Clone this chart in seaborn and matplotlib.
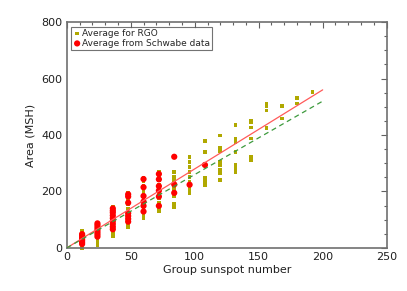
import matplotlib
matplotlib.use("Agg")
import matplotlib.pyplot as plt
from matplotlib.ticker import MultipleLocator
import pandas as pd
import seaborn as sns

# RGO averages, one list per group-number column
rgo_cols = [12, 24, 36, 48, 60, 72, 84, 96, 108, 120, 132, 144, 156, 168, 180, 192]
rgo_vals = [
    [0, 8, 15, 22, 30, 38, 45, 52, 61],
    [10, 20, 32, 45, 55, 65, 75, 82, 90],
    [40, 52, 65, 78, 90, 100, 112, 125, 138, 146],
    [75, 88, 100, 112, 125, 140, 155, 170, 185, 195],
    [105, 118, 130, 145, 160, 175, 190, 205, 220, 235, 250],
    [130, 145, 160, 178, 195, 210, 225, 240, 255, 268],
    [144, 156, 182, 203, 211, 223, 241, 252, 268],
    [195, 205, 216, 234, 251, 269, 287, 304, 322],
    [223, 236, 250, 341, 380],
    [241, 264, 276, 294, 306, 344, 356, 398],
    [270, 282, 294, 341, 376, 388, 435],
    [311, 323, 388, 427, 447, 452],
    [425, 487, 504, 512],
    [459, 503],
    [512, 530],
    [553],
]

# Schwabe averages
sch_cols = [12, 24, 36, 48, 60, 72, 84, 96, 108]
sch_vals = [
    [14, 20, 26, 32, 38, 44, 49],
    [40, 48, 56, 64, 72, 80, 87],
    [66, 75, 85, 95, 105, 115, 125, 132, 140],
    [93, 103, 113, 123, 160, 182, 190],
    [129, 149, 164, 184, 215, 244],
    [149, 182, 203, 219, 243, 262],
    [195, 225, 323],
    [224],
    [294],
]

# linear fits
fit_x = [0, 200]
sch_fit = [0, 560]
rgo_fit = [0, 520]

rgo = pd.DataFrame([(c, v) for c, vs in zip(rgo_cols, rgo_vals) for v in vs],
                   columns=["G", "area"])
sch = pd.DataFrame([(c, v) for c, vs in zip(sch_cols, sch_vals) for v in vs],
                   columns=["G", "area"])

sns.set_style("white")
plt.rcParams["font.family"] = ["DejaVu Sans"]

fig = plt.figure(figsize=(4.07, 2.91), dpi=100)
ax = fig.add_axes([0.164, 0.148, 0.786, 0.776])

sns.scatterplot(data=rgo, x="G", y="area", ax=ax, marker="s", s=7,
                color="#b0a800", edgecolor="none", label="Average for RGO",
                clip_on=False, zorder=2)
sns.scatterplot(data=sch, x="G", y="area", ax=ax, marker="o", s=20,
                color="#ff0000", edgecolor="none",
                label="Average from Schwabe data", clip_on=False, zorder=3)
sns.lineplot(x=fit_x, y=sch_fit, ax=ax, color="#ff5a5a", lw=0.9, zorder=4)
sns.lineplot(x=fit_x, y=rgo_fit, ax=ax, color="#3d9a3d", lw=0.9, zorder=4)
ax.lines[-1].set_linestyle((0, (4, 3)))

ax.set_xlim(0, 250)
ax.set_ylim(0, 800)
ax.xaxis.set_major_locator(MultipleLocator(50))
ax.xaxis.set_minor_locator(MultipleLocator(10))
ax.yaxis.set_major_locator(MultipleLocator(200))
ax.yaxis.set_minor_locator(MultipleLocator(50))
ax.tick_params(which="both", direction="in", top=True, right=True,
               color="#606060", labelsize=8, labelcolor="#202020", pad=3)
ax.tick_params(which="major", length=4.5, width=0.8)
ax.tick_params(which="minor", length=2.5, width=0.8)
for s in ax.spines.values():
    s.set_color("#707070")
    s.set_linewidth(1.2)

ax.set_xlabel("Group sunspot number", fontsize=8, color="#202020", labelpad=2)
ax.set_ylabel("Area (MSH)", fontsize=8, color="#202020", labelpad=4)

leg = ax.legend(loc="upper left", fontsize=6.5, frameon=True, fancybox=False,
                borderpad=0.25, handletextpad=0.1, handlelength=0.8,
                labelspacing=0.1, borderaxespad=0.5, markerscale=1.0)
leg.get_frame().set_edgecolor("#505050")
leg.get_frame().set_linewidth(0.8)

fig.savefig("out.png", dpi=100)
plt.close()
